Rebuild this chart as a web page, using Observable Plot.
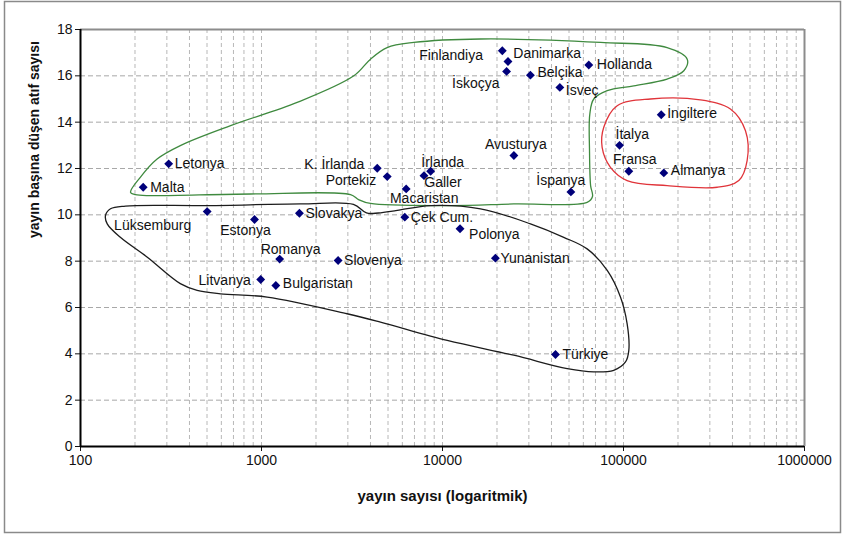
<!DOCTYPE html>
<html>
<head>
<meta charset="utf-8">
<script src="https://cdn.jsdelivr.net/npm/d3@7"></script>
<script src="https://cdn.jsdelivr.net/npm/@observablehq/plot@0.6"></script>
<style>
  html, body { margin: 0; padding: 0; background: #fff; }
  #chart { width: 842px; height: 537px; }
</style>
</head>
<body>
<div id="chart"></div>
<script>
// ---- data ----
const countries = ["Letonya","Malta","Lüksemburg","Estonya","Slovakya","Romanya","Slovenya","Litvanya","Bulgaristan",
  "K. İrlanda","Portekiz","Macaristan","İrlanda","Galler","Çek Cum.","Polonya","Yunanistan","Türkiye",
  "Avusturya","İspanya","Danimarka","Finlandiya","İskoçya","Belçika","Hollanda","İsveç",
  "İngiltere","İtalya","Fransa","Almanya"];
const publications = [307, 222, 501, 915, 1620, 1260, 2650, 990, 1200,
  4360, 4950, 6300, 8600, 7900, 6190, 12500, 19600, 42100,
  24800, 51200, 21400, 23000, 22600, 30600, 64300, 44500,
  161600, 95100, 107000, 167000];
const citationsPerPublication = [12.2, 11.19, 10.14, 9.8, 10.07, 8.09, 8.03, 7.21, 6.95,
  12.01, 11.65, 11.12, 11.88, 11.69, 9.9, 9.4, 8.13, 3.97,
  12.56, 10.99, 17.08, 16.62, 16.19, 16.03, 16.47, 15.5,
  14.32, 13.0, 11.88, 11.81];

const xTickLabels = [100, 1000, 10000, 100000, 1000000];
const yTickLabels = [0, 2, 4, 6, 8, 10, 12, 14, 16, 18];
const xTitle = "yayın sayısı (logaritmik)";
const yTitle = "yayın başına düşen atıf sayısı";

// group outlines (data units)
const greenGroupX = [189, 214, 265, 356, 675, 1574, 3236, 4000, 4943, 6934, 16220, 74650, 174200, 224900, 215400, 174200, 114000, 81300, 68500, 65150, 64900, 65800, 67400, 62950, 24770, 11070, 4000, 3436, 3105, 869, 244, 201];
const greenGroupY = [10.97, 11.62, 12.41, 12.99, 13.85, 14.85, 16.0, 16.72, 17.22, 17.44, 17.59, 17.44, 17.22, 16.72, 16.22, 15.86, 15.57, 15.36, 15.0, 14.35, 12.77, 11.26, 10.79, 10.54, 10.47, 10.40, 10.49, 10.66, 10.87, 10.9, 10.83, 10.87];
const blackGroupX = [146.5, 177, 503, 1641, 3221, 3800, 4428, 5623, 8590, 16220, 30620, 46770, 62950, 81300, 96200, 104700, 107000, 102600, 88300, 68500, 48870, 24770, 10620, 4540, 2972, 1074, 593, 441, 356, 234, 166, 140.5, 137.4];
const blackGroupY = [10.26, 10.38, 10.40, 10.47, 10.45, 10.08, 10.08, 10.19, 10.40, 10.26, 9.61, 9.03, 8.53, 7.6, 6.45, 5.30, 4.15, 3.65, 3.29, 3.22, 3.36, 3.94, 4.58, 5.37, 5.73, 6.45, 6.59, 6.74, 7.03, 8.17, 9.03, 9.61, 9.97];
const redGroupX = [92300, 140900, 266000, 389600, 472000, 482000, 433600, 329600, 174200, 104700, 84700, 76200, 77800];
const redGroupY = [14.71, 15.0, 14.96, 14.57, 13.63, 12.34, 11.48, 11.19, 11.26, 11.48, 12.05, 12.91, 13.78];

// ---- label placement (layout only) ----
const labelPlace = {
  "Letonya": [6, 0, "start"], "Malta": [7, 0, "start"], "Lüksemburg": [-16, 14, "end"],
  "Estonya": [-9, 11, "middle"], "Slovakya": [6, 0, "start"], "Romanya": [11, -10, "middle"],
  "Slovenya": [6, 0, "start"], "Litvanya": [-10, 1, "end"], "Bulgaristan": [7, -2, "start"],
  "K. İrlanda": [-13, -4, "end"], "Portekiz": [-11, 4, "end"], "Macaristan": [18, 10, "middle"],
  "İrlanda": [12, -9, "middle"], "Galler": [19, 7, "middle"], "Çek Cum.": [6, 0, "start"],
  "Polonya": [9, 6, "start"], "Yunanistan": [5, 0, "start"], "Türkiye": [7, 0, "start"],
  "Avusturya": [2, -11, "middle"], "İspanya": [-10, -11, "middle"], "Danimarka": [11, 3, "start"],
  "Finlandiya": [-25, -6, "end"], "İskoçya": [-7, 12, "end"], "Belçika": [7, -3, "start"],
  "Hollanda": [8, 0, "start"], "İsveç": [6, 3, "start"], "İngiltere": [6, -1, "start"],
  "İtalya": [-4, -11, "start"], "Fransa": [6, -12, "middle"], "Almanya": [7, -2, "start"]
};

const points = countries.map((c, i) => ({country: c, pubs: publications[i], cit: citationsPerPublication[i]}));
const outline = (xs, ys) => xs.map((x, i) => ({x, y: ys[i]}));
const green = outline(greenGroupX, greenGroupY);
const black = outline(blackGroupX, blackGroupY);
const red = outline(redGroupX, redGroupY);

const minorTicks = d3.scaleLog().domain([100, 1e6]).ticks().filter(t => t > 100 && t < 1e6);

const font = "'Liberation Sans', Arial, sans-serif";

const labelMarks = points.map(p => {
  const [dx, dy, anchor] = labelPlace[p.country];
  return Plot.text([p], {x: "pubs", y: "cit", text: "country", dx, dy, textAnchor: anchor,
    fontSize: 14, fill: "#111"});
});

const chart = Plot.plot({
  width: 842,
  height: 537,
  marginLeft: 80,
  marginRight: 38,
  marginTop: 29,
  marginBottom: 91,
  style: {fontFamily: font, fontSize: "14px", background: "#fff", color: "#111"},
  x: {type: "log", domain: [100, 1e6], ticks: xTickLabels, tickFormat: d => String(d), tickSize: 5, tickPadding: 4, label: null},
  y: {domain: [0, 18], ticks: yTickLabels, tickSize: 5, tickPadding: 3, label: null},
  marks: [
    Plot.ruleX(minorTicks, {stroke: "#b8b8b8", strokeDasharray: "4,3", strokeWidth: 1}),
    Plot.ruleY(yTickLabels.filter(v => v > 0 && v < 18), {stroke: "#a8a8a8", strokeDasharray: "5,3", strokeWidth: 1}),
    Plot.line(green, {x: "x", y: "y", curve: "catmull-rom-closed", stroke: "#3f8a3f", strokeWidth: 1.3}),
    Plot.line(black, {x: "x", y: "y", curve: "catmull-rom-closed", stroke: "#1c1c1c", strokeWidth: 1.3}),
    Plot.line(red, {x: "x", y: "y", curve: "catmull-rom-closed", stroke: "#e0343a", strokeWidth: 1.3}),
    Plot.ruleY([18], {stroke: "#8c8c8c", strokeWidth: 2}),
    Plot.ruleX([1e6], {stroke: "#8c8c8c", strokeWidth: 2}),
    Plot.ruleX([100], {stroke: "#000", strokeWidth: 2}),
    Plot.ruleY([0], {stroke: "#000", strokeWidth: 2}),
    Plot.dot(points, {x: "pubs", y: "cit", symbol: "diamond2", r: 4, fill: "#00007a", stroke: "none"}),
    ...labelMarks,
    Plot.text([xTitle], {frameAnchor: "bottom", dy: 54, fontWeight: "bold", fontSize: 15, fill: "#111"}),
    Plot.text([yTitle], {frameAnchor: "left", dx: -46, rotate: -90, fontWeight: "bold", fontSize: 14, fill: "#111"})
  ]
});

d3.select(chart).append("rect")
  .attr("x", 4.5).attr("y", 1.5).attr("width", 836).attr("height", 531)
  .attr("fill", "none").attr("stroke", "#8a8a8a").attr("stroke-width", 1.5);

document.getElementById("chart").appendChild(chart);
</script>
</body>
</html>
